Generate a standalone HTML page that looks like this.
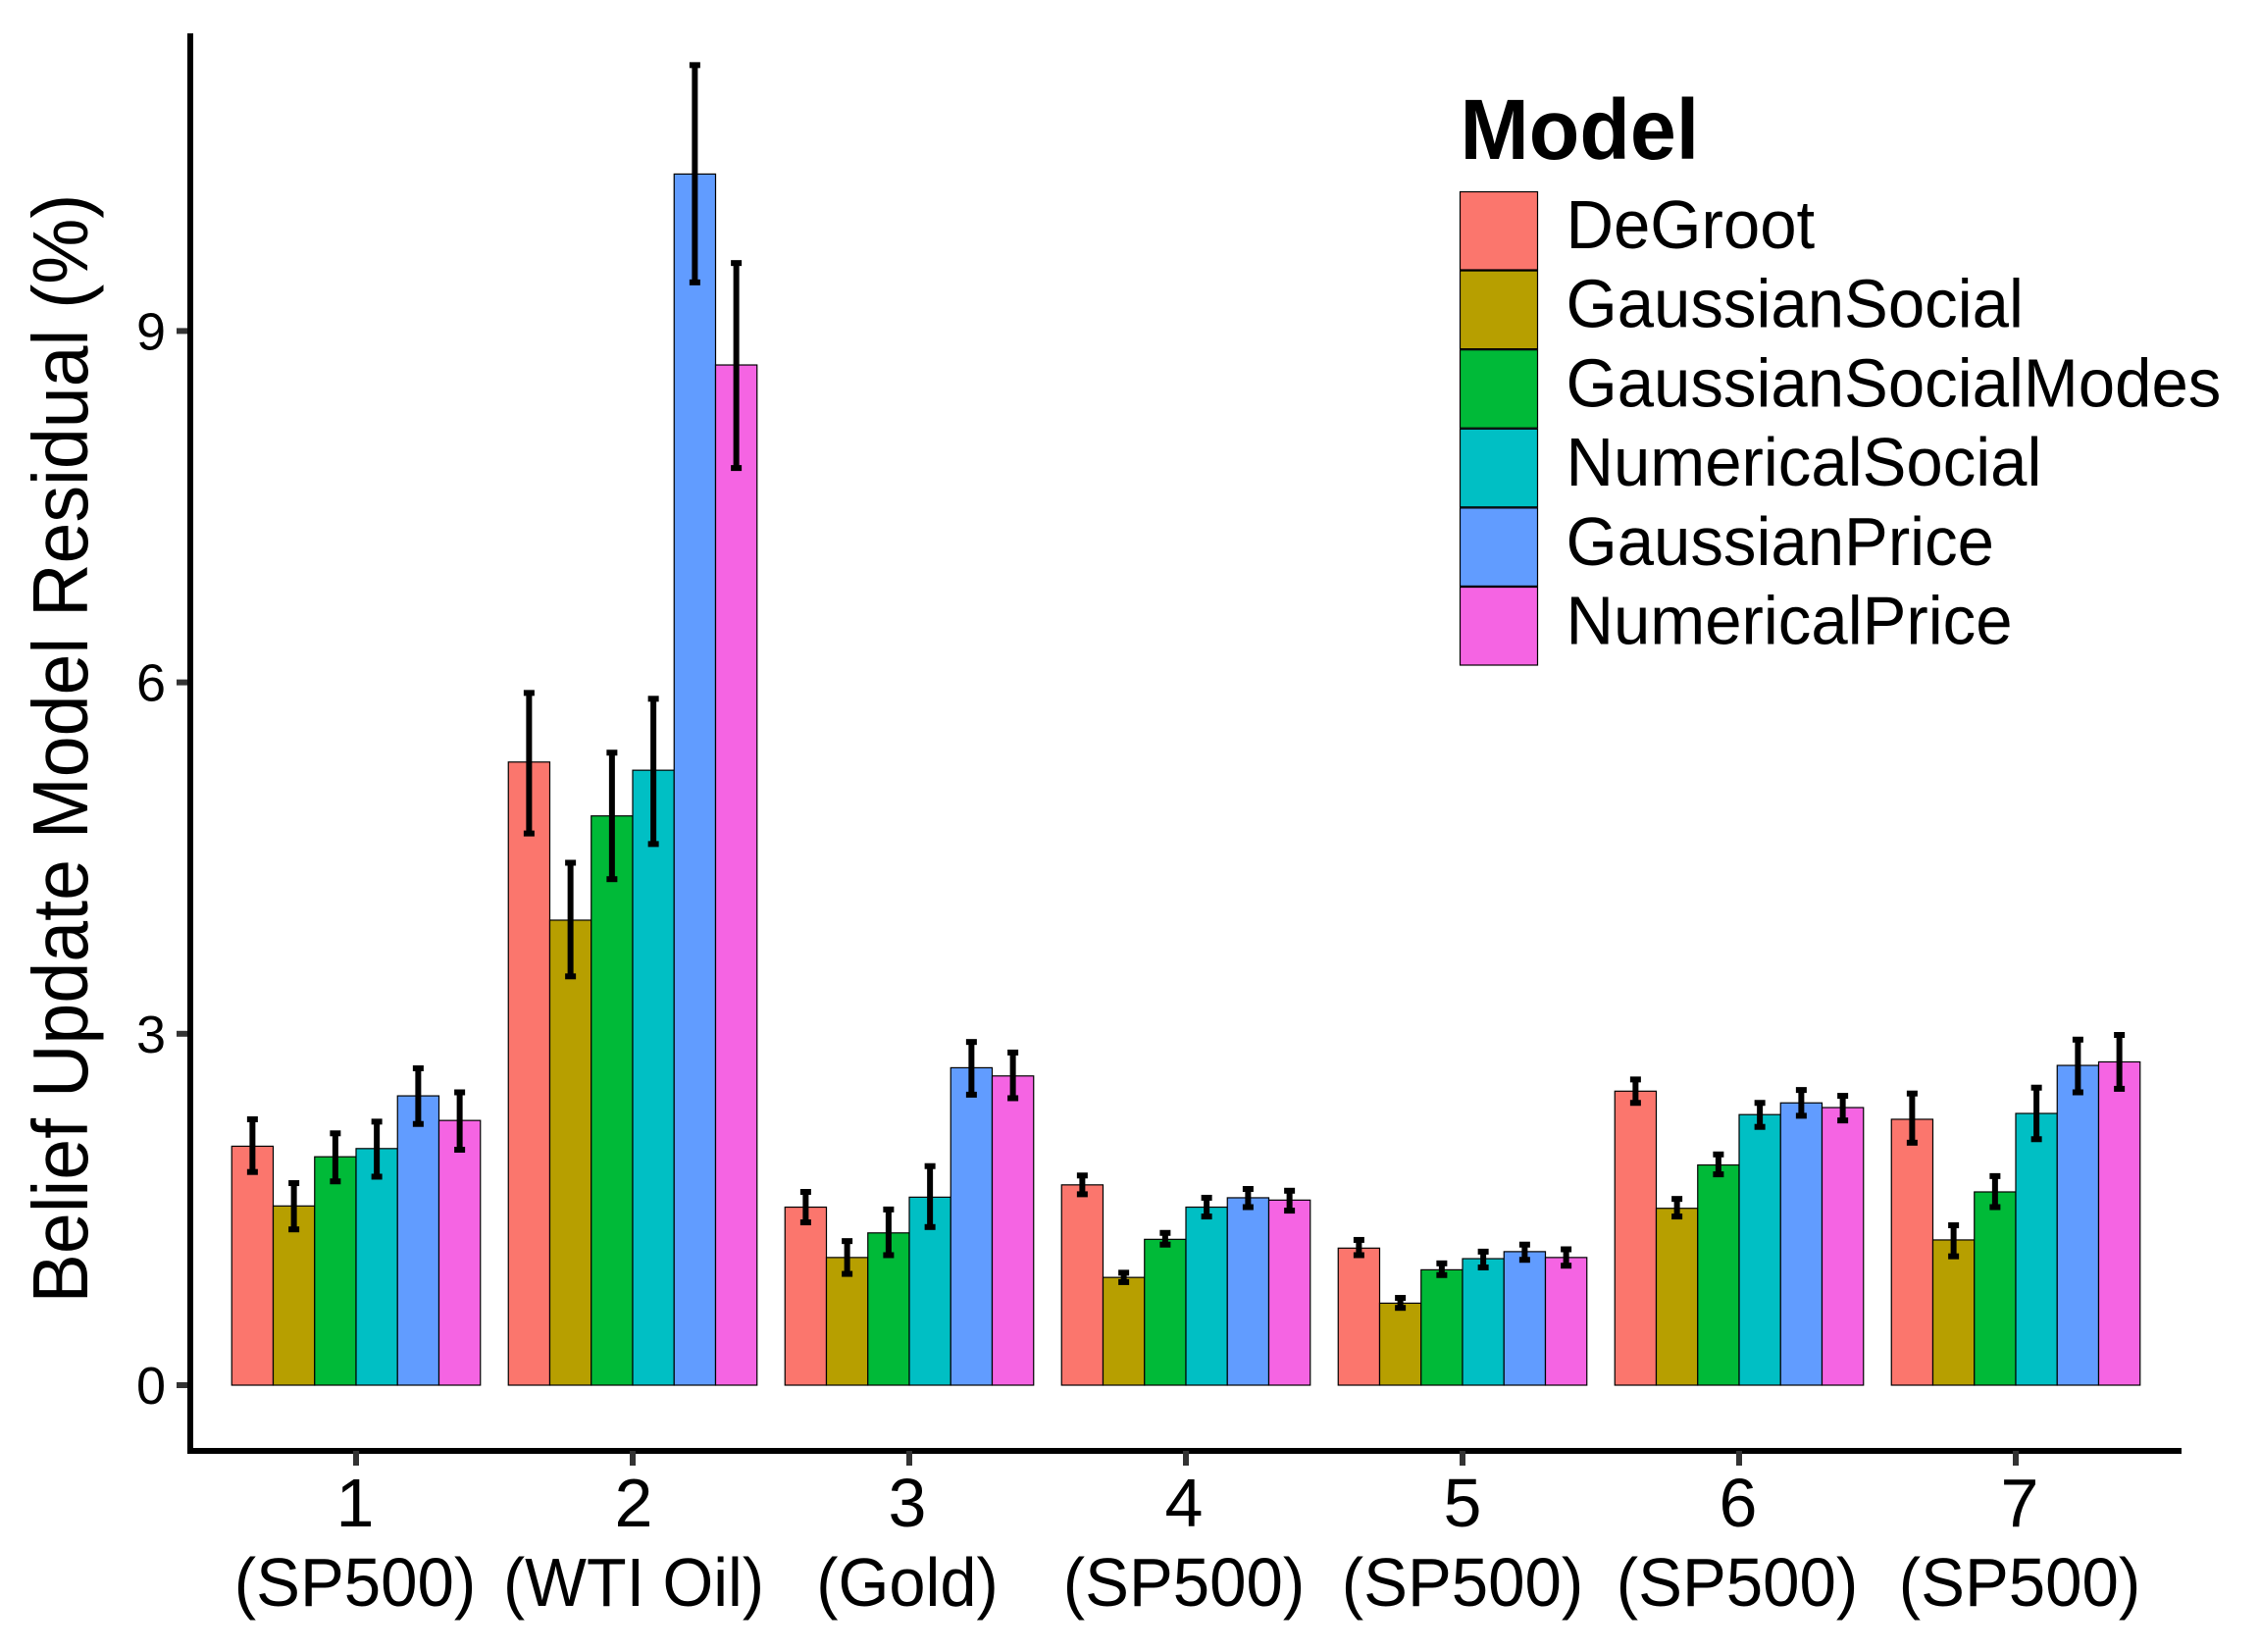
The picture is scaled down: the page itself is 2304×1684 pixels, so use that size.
<!DOCTYPE html>
<html lang="en">
<head>
<meta charset="utf-8">
<title>Belief Update Model Residual</title>
<style>
html,body{margin:0;padding:0;background:#fff;}
svg{display:block;}
text{font-family:"Liberation Sans",Arial,sans-serif;fill:#000;}
</style>
</head>
<body>
<svg id="chart" xmlns="http://www.w3.org/2000/svg" width="2304" height="1684" viewBox="0 0 2304 1684">
  <rect x="0" y="0" width="2304" height="1684" fill="#fff"/>
  <g id="bars"></g>
  <g id="errors"></g>
  <rect x="191" y="34" width="6" height="1448" fill="#000"/>
  <rect x="191" y="1476" width="2033" height="6" fill="#000"/>
  <g id="yticks"></g>
  <g id="xticks"></g>
  <text transform="translate(89,763) rotate(-90) scale(0.942,1)" font-size="80" text-anchor="middle">Belief Update Model Residual (%)</text>

  <g font-size="70" text-anchor="middle">
    <text x="362" y="1556">1</text>
    <text x="362" y="1637" textLength="246.5" lengthAdjust="spacingAndGlyphs">(SP500)</text>
    <text x="646" y="1556">2</text>
    <text x="646" y="1637" textLength="266" lengthAdjust="spacingAndGlyphs">(WTI Oil)</text>
    <text x="925" y="1556">3</text>
    <text x="925" y="1637" textLength="185.5" lengthAdjust="spacingAndGlyphs">(Gold)</text>
    <text x="1207" y="1556">4</text>
    <text x="1207" y="1637" textLength="246.5" lengthAdjust="spacingAndGlyphs">(SP500)</text>
    <text x="1491" y="1556">5</text>
    <text x="1491" y="1637" textLength="246.5" lengthAdjust="spacingAndGlyphs">(SP500)</text>
    <text x="1772" y="1556">6</text>
    <text x="1771" y="1637" textLength="246.5" lengthAdjust="spacingAndGlyphs">(SP500)</text>
    <text x="2059" y="1556">7</text>
    <text x="2059" y="1637" textLength="246.5" lengthAdjust="spacingAndGlyphs">(SP500)</text>
  </g>

  <g id="legend">
    <text transform="translate(1488.5,162) scale(0.97,1)" font-size="87" font-weight="bold">Model</text>
  </g>
</svg>
<script>
const categories = ["1", "2", "3", "4", "5", "6", "7"];
const yTickLabels = [0, 3, 6, 9];
const modelNames = ["DeGroot", "GaussianSocial", "GaussianSocialModes", "NumericalSocial", "GaussianPrice", "NumericalPrice"];

const degrootMean = [2.04, 5.32, 1.52, 1.71, 1.17, 2.51, 2.27];
const gaussianSocialMean = [1.53, 3.97, 1.09, 0.92, 0.70, 1.51, 1.24];
const gaussianSocialModesMean = [1.95, 4.86, 1.30, 1.245, 0.985, 1.88, 1.65];
const numericalSocialMean = [2.02, 5.25, 1.605, 1.52, 1.08, 2.31, 2.32];
const gaussianPriceMean = [2.47, 10.34, 2.71, 1.60, 1.14, 2.41, 2.73];
const numericalPriceMean = [2.26, 8.71, 2.64, 1.58, 1.09, 2.37, 2.76];

const degrootHigh = [2.27, 5.91, 1.65, 1.79, 1.24, 2.61, 2.49];
const gaussianSocialHigh = [1.725, 4.46, 1.23, 0.96, 0.745, 1.59, 1.365];
const gaussianSocialModesHigh = [2.15, 5.40, 1.50, 1.30, 1.04, 1.97, 1.785];
const numericalSocialHigh = [2.25, 5.86, 1.87, 1.60, 1.14, 2.41, 2.54];
const gaussianPriceHigh = [2.705, 11.27, 2.93, 1.675, 1.20, 2.52, 2.95];
const numericalPriceHigh = [2.50, 9.58, 2.84, 1.66, 1.16, 2.47, 2.99];

const degrootLow = [1.82, 4.71, 1.39, 1.63, 1.11, 2.41, 2.07];
const gaussianSocialLow = [1.33, 3.49, 0.95, 0.88, 0.66, 1.44, 1.10];
const gaussianSocialModesLow = [1.74, 4.32, 1.11, 1.20, 0.94, 1.80, 1.52];
const numericalSocialLow = [1.78, 4.62, 1.35, 1.44, 1.005, 2.205, 2.10];
const gaussianPriceLow = [2.23, 9.415, 2.48, 1.52, 1.07, 2.30, 2.50];
const numericalPriceLow = [2.01, 7.83, 2.45, 1.49, 1.02, 2.26, 2.53];

const NS = "http://www.w3.org/2000/svg";
const fills = ["#FB766D", "#B79F00", "#00BA38", "#00BFC4", "#619CFF", "#F564E3"];
const means = [degrootMean, gaussianSocialMean, gaussianSocialModesMean, numericalSocialMean, gaussianPriceMean, numericalPriceMean];
const highs = [degrootHigh, gaussianSocialHigh, gaussianSocialModesHigh, numericalSocialHigh, gaussianPriceHigh, numericalPriceHigh];
const lows = [degrootLow, gaussianSocialLow, gaussianSocialModesLow, numericalSocialLow, gaussianPriceLow, numericalPriceLow];

function yScale(v) { return 1412 - v * 119.4; }
function xTick(i) { return 363 + i * 282; }
const barWidth = 42.25;
function xBar(g, m) { return xTick(g) - 3 * barWidth + m * barWidth; }

function make(tag, attrs, parent) {
  const el = document.createElementNS(NS, tag);
  for (const k in attrs) el.setAttribute(k, attrs[k]);
  parent.appendChild(el);
  return el;
}

const barsLayer = document.getElementById("bars");
const errorsLayer = document.getElementById("errors");
const yTicksLayer = document.getElementById("yticks");
const xTicksLayer = document.getElementById("xticks");
const legendLayer = document.getElementById("legend");

categories.forEach(function (cat, g) {
  modelNames.forEach(function (model, m) {
    const top = yScale(means[m][g]);
    const bar = make("rect", {
      x: xBar(g, m), y: top, width: barWidth, height: yScale(0) - top,
      fill: fills[m], stroke: "#000", "stroke-width": 1.2
    }, barsLayer);
    
    

    const cx = xBar(g, m) + barWidth / 2;
    const yHi = yScale(highs[m][g]);
    const yLo = yScale(lows[m][g]);
    const stem = make("line", { x1: cx, x2: cx, y1: yHi, y2: yLo, stroke: "#000", "stroke-width": 6 }, errorsLayer);
    
    
    const capTop = make("line", { x1: cx - 5.5, x2: cx + 5.5, y1: yHi, y2: yHi, stroke: "#000", "stroke-width": 6 }, errorsLayer);
    
    
    const capBottom = make("line", { x1: cx - 5.5, x2: cx + 5.5, y1: yLo, y2: yLo, stroke: "#000", "stroke-width": 6 }, errorsLayer);
    
    
  });

  const tick = make("rect", { x: xTick(g) - 3, y: 1479, width: 6, height: 15, fill: "#333" }, xTicksLayer);
  
  
});

yTickLabels.forEach(function (v) {
  const tick = make("rect", { x: 180, y: yScale(v) - 3, width: 11, height: 6, fill: "#333" }, yTicksLayer);
  
  
  const label = make("text", { x: 169, y: yScale(v) + 19, "font-size": 54, "text-anchor": "end" }, yTicksLayer);
  
  
  label.textContent = String(v);
});

modelNames.forEach(function (model, i) {
  const key = make("rect", {
    x: 1488.5, y: 195.5 + i * 80.6, width: 79, height: 79.5,
    fill: fills[i], stroke: "#000", "stroke-width": 1.2
  }, legendLayer);
  
  
  const label = make("text", {
    transform: "translate(1596.5," + (253 + i * 80.7) + ") scale(0.966,1)",
    "font-size": 69.5
  }, legendLayer);
  
  
  label.textContent = model;
});
</script>
</body>
</html>
